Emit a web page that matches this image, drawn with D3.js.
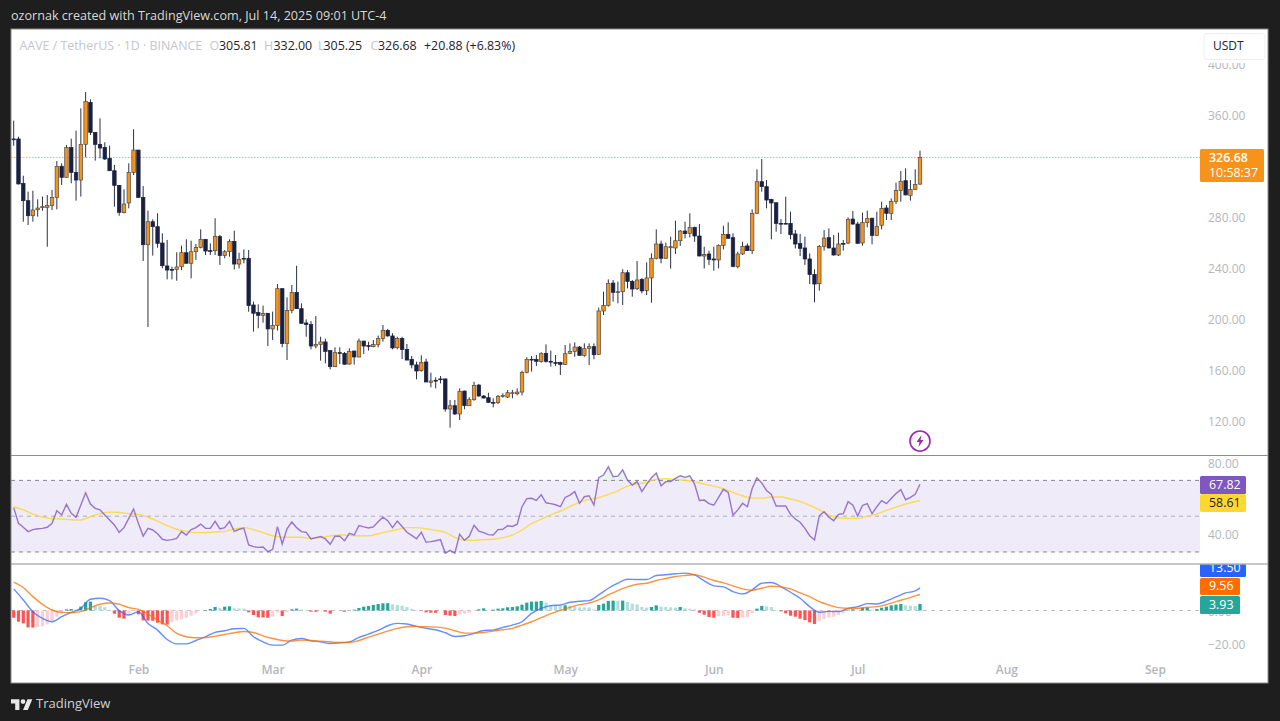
<!DOCTYPE html>
<html><head><meta charset="utf-8">
<script src="https://cdnjs.cloudflare.com/ajax/libs/d3/7.8.5/d3.min.js"></script>
<style>html,body{margin:0;padding:0;background:#1e1e1e;overflow:hidden}svg{display:block}text{font-family:"Open Sans",sans-serif}</style>
</head><body><svg id="c" width="1280" height="721"></svg>
<script>
const opens=[341.2,341.2,306.4,292.8,281.0,285.7,287.3,287.6,289.1,295.2,
319.8,311.1,334.4,315.0,309.0,337.0,369.9,346.4,337.0,334.6,
326.0,316.3,304.8,283.4,291.0,315.0,332.5,295.4,258.3,276.3,
272.4,259.6,241.6,238.9,238.9,241.0,252.0,243.7,252.8,256.2,
262.5,253.6,253.6,264.6,249.7,252.8,260.9,243.1,247.6,247.6,
211.0,205.0,202.9,204.5,192.2,194.8,223.8,180.7,206.8,220.9,
208.1,196.9,195.6,178.8,180.1,182.0,175.2,162.6,173.6,173.1,
164.7,174.9,170.2,182.7,179.1,178.3,180.1,184.8,191.1,186.7,
177.5,184.8,176.2,168.4,164.0,159.5,166.3,150.1,151.9,153.0,
153.0,129.4,132.0,125.5,143.5,132.0,136.7,148.2,139.6,138.3,
134.6,134.4,139.6,138.8,141.7,141.4,142.7,158.2,168.4,168.4,
166.6,173.1,166.8,165.8,165.8,164.4,173.1,174.6,178.0,171.5,
177.0,178.3,172.3,206.3,210.7,228.2,220.9,221.4,236.3,229.5,
223.8,231.1,222.2,232.2,247.6,258.8,247.6,255.9,255.7,261.4,
269.0,267.2,271.9,265.1,249.4,251.0,247.1,246.3,257.8,266.4,
263.8,241.0,251.0,257.3,253.6,282.9,307.7,303.8,293.9,291.2,
275.0,275.0,275.0,266.7,259.3,255.7,247.1,235.0,227.7,257.0,
263.8,255.7,250.2,259.3,259.6,278.4,274.5,259.6,275.6,279.0,
265.6,273.5,287.1,282.9,292.3,300.9,308.5,297.0,301.7,305.81];
const closes=[340.8,305.9,292.8,281.0,285.5,287.0,288.1,289.1,295.2,319.5,
311.1,334.4,315.0,309.0,337.0,370.5,346.4,337.0,334.1,325.5,
316.3,304.8,283.7,290.2,315.0,332.5,295.4,258.3,276.3,272.4,
259.3,241.8,238.4,238.4,240.8,252.0,243.7,252.8,256.2,262.5,
253.3,253.3,264.6,249.7,252.8,260.9,243.1,246.8,247.3,210.5,
204.5,202.9,204.2,192.2,194.8,223.8,180.7,206.8,220.9,208.1,
196.6,195.6,178.8,180.1,182.0,174.6,162.6,173.6,173.3,164.5,
174.6,170.2,182.7,178.8,178.6,180.1,184.8,190.9,186.7,177.3,
184.8,176.0,167.8,164.0,159.2,166.0,150.6,151.4,151.6,152.7,
129.4,132.0,125.5,143.3,132.0,136.7,148.0,139.6,138.0,134.6,
134.4,139.4,139.9,142.2,142.2,142.7,158.2,168.4,168.1,166.8,
172.8,166.8,166.5,165.2,164.4,172.8,174.6,178.0,171.5,176.7,
178.3,172.0,206.3,210.7,227.9,220.9,221.4,236.3,229.5,223.5,
230.6,222.0,232.2,247.6,258.8,247.6,256.7,256.7,261.4,269.0,
266.9,271.9,265.1,249.4,250.7,246.8,246.3,257.8,266.4,263.3,
241.3,251.0,257.0,253.6,282.9,307.7,303.8,293.3,291.0,275.0,
274.8,274.8,266.1,258.8,255.4,247.1,234.8,227.4,257.0,263.5,
255.7,250.2,258.8,259.1,278.2,274.5,259.3,275.6,278.7,265.6,
272.7,286.8,282.9,292.3,300.9,308.0,297.3,301.7,305.6,326.68];
const highs=[355.6,343.0,312.4,299.9,300.6,293.9,296.0,297.2,301.2,323.9,
322.1,336.5,341.4,347.7,365.2,378.0,372.3,346.6,357.4,338.6,
335.9,320.8,304.9,301.7,322.1,348.8,332.7,304.3,285.0,278.2,
282.9,267.2,262.0,241.0,252.3,257.5,262.5,261.4,258.8,270.3,
262.7,259.3,279.0,265.9,254.1,262.5,269.3,252.0,254.6,254.1,
213.6,211.5,210.5,204.7,205.8,227.5,224.0,217.0,226.7,241.8,
212.3,199.7,198.4,202.3,186.1,184.6,175.4,177.8,177.8,174.1,
177.0,175.0,184.6,182.9,182.2,183.5,187.0,195.3,192.2,188.8,
186.1,186.1,180.4,171.0,166.5,171.5,168.9,157.9,154.2,155.3,
153.2,136.5,136.5,145.6,143.8,138.6,150.8,149.0,140.4,142.2,
137.8,140.4,141.7,144.3,144.3,145.6,159.5,170.0,171.0,171.8,
173.9,180.1,175.2,171.8,166.5,179.6,180.9,181.7,178.8,180.9,
180.9,180.9,208.9,221.4,231.1,230.6,229.3,239.0,238.4,230.6,
245.5,232.2,244.4,251.5,270.3,261.4,259.9,264.6,277.1,269.8,
276.3,282.9,272.4,274.5,256.7,253.6,256.7,258.5,273.2,275.8,
267.2,252.8,260.6,259.3,286.0,317.4,325.5,309.0,294.1,291.4,
278.4,295.9,284.2,269.8,266.7,264.6,251.5,238.9,258.0,269.8,
271.1,265.9,267.7,262.0,279.7,284.7,276.3,283.4,285.0,279.5,
284.2,292.0,289.4,294.6,306.9,316.1,318.2,309.0,317.4,332.00];
const lows=[335.9,305.5,276.3,273.7,276.3,280.3,285.0,256.7,285.5,286.0,
305.1,310.8,306.4,292.8,296.0,326.8,344.3,324.2,326.0,324.7,
316.1,288.1,281.0,282.9,286.8,312.9,295.2,245.5,193.7,249.7,
255.9,239.7,231.1,231.1,230.0,238.4,243.5,231.9,246.3,255.4,
250.2,250.2,250.2,242.4,247.6,248.9,238.9,239.7,243.7,205.7,
190.1,192.7,197.1,178.8,183.5,190.9,177.8,167.8,204.5,207.9,
196.4,186.1,176.2,177.0,167.3,165.2,160.5,162.4,164.7,164.3,
164.2,164.2,170.0,172.6,175.2,177.8,177.8,182.2,186.1,176.2,
176.2,168.6,167.6,161.3,152.7,158.7,150.4,146.4,145.6,149.5,
127.3,114.8,124.7,120.8,129.2,131.8,135.9,139.1,137.8,134.4,
130.7,133.3,138.3,138.0,137.8,140.1,140.1,157.4,158.7,163.1,
165.8,165.8,162.6,163.1,156.1,163.9,172.5,170.4,171.3,170.4,
163.9,168.4,172.0,203.1,209.7,213.6,212.3,211.0,224.0,217.5,
222.7,220.1,218.8,212.8,246.8,243.7,247.1,239.5,251.0,257.3,
263.3,264.0,260.6,249.2,239.7,242.4,237.9,239.7,254.6,263.1,
240.5,239.7,250.2,253.4,251.0,282.7,299.9,286.8,262.5,268.5,
266.7,274.6,262.5,255.4,249.4,242.4,227.4,213.1,222.2,253.6,
255.4,249.7,249.4,253.6,258.8,273.7,259.1,257.5,271.9,258.6,
265.1,270.3,277.6,277.6,290.2,292.0,297.1,292.8,301.2,305.25];
const rsi=[54.8,46.0,43.8,41.4,42.5,43.0,43.2,43.8,46.0,53.1,
50.7,56.6,51.6,49.4,56.2,63.1,56.8,54.4,53.6,50.7,
47.9,45.1,41.0,43.6,48.8,54.0,46.0,38.9,43.2,42.3,
40.2,37.1,36.5,36.9,37.6,41.4,39.5,42.5,43.6,45.6,
43.2,43.2,47.1,42.9,43.6,47.1,41.5,42.7,43.4,33.9,
33.0,32.6,32.8,30.2,31.5,44.2,34.5,42.9,46.8,43.6,
41.4,41.0,37.3,38.0,38.6,37.3,34.3,38.8,38.8,36.3,
40.4,39.5,44.7,44.0,43.4,44.0,46.9,49.4,47.5,43.6,
47.3,44.2,41.0,39.3,37.4,41.0,35.4,35.8,36.3,36.9,
29.3,30.9,29.3,39.9,36.5,38.8,44.9,41.7,40.8,39.7,
39.5,42.5,42.7,44.7,44.3,45.5,55.3,59.8,60.0,58.8,
62.0,57.5,57.0,56.4,55.3,60.5,61.8,63.7,57.2,60.9,
61.4,56.2,71.5,73.0,77.6,72.1,72.4,75.9,70.2,67.4,
69.3,63.7,67.8,71.5,74.1,67.0,69.3,69.3,71.1,72.6,
71.7,72.6,67.8,58.8,59.0,57.0,56.1,60.5,65.0,63.3,
50.5,53.5,57.2,55.3,65.5,71.5,68.5,64.4,62.2,55.7,
55.7,55.7,51.0,48.4,46.6,43.2,39.1,36.7,50.3,52.5,
49.4,47.5,51.0,51.4,58.1,56.2,50.1,56.0,57.0,51.4,
55.3,58.7,57.0,59.9,62.7,64.8,59.2,60.5,62.2,67.82];
const sampledAt=d3.range(0,189,2).concat([189]);
const rsiMa=[55.3,53.5,51.2,49.5,48.6,48.4,48.0,47.9,49.7,51.4,
52.3,52.1,51.4,51.0,49.4,47.3,44.7,42.7,41.5,40.8,
40.8,41.2,41.5,42.9,43.6,42.5,40.8,39.1,38.2,38.2,
38.2,37.6,38.2,38.9,39.5,39.3,39.1,39.1,40.2,41.4,
42.5,43.6,43.6,43.0,42.1,41.0,38.2,36.7,36.5,36.9,
37.1,38.0,39.5,42.3,45.8,48.4,50.7,52.9,55.3,57.7,
59.4,60.3,62.2,64.2,66.8,68.1,68.9,70.6,70.9,70.6,
70.0,69.3,67.9,66.8,65.3,63.3,61.4,60.1,60.1,60.7,
60.7,59.6,58.3,56.0,53.5,50.7,49.0,48.8,48.8,49.9,
51.2,53.3,55.1,56.8,58.1,58.61];
const macd=[12.9,6.3,-0.7,-4.7,-6.7,-3.7,-1.1,1.3,6.7,7.3,
5.9,-0.1,-2.7,-0.7,-7.7,-11.7,-17.3,-19.9,-19.9,-17.9,
-15.7,-13.1,-12.1,-10.9,-10.7,-15.7,-18.7,-20.7,-20.7,-17.7,
-16.7,-18.1,-18.7,-19.7,-19.3,-18.7,-16.1,-14.1,-11.9,-9.1,
-7.7,-8.1,-9.5,-10.7,-11.5,-13.3,-15.5,-15.1,-13.7,-11.9,
-11.7,-10.1,-8.7,-6.7,-1.7,1.3,2.9,3.3,4.9,5.5,
5.9,9.3,13.3,16.3,18.7,18.5,18.5,20.9,21.3,21.9,
22.3,21.3,17.7,14.7,14.1,11.3,9.9,12.3,16.3,16.7,
14.3,10.9,7.3,2.3,-1.1,-0.5,-0.7,1.3,2.3,4.1,
3.9,5.7,8.1,10.5,11.7,13.50];
const signal=[16.9,13.7,8.3,3.7,0.3,-1.1,-1.3,-0.7,1.7,3.7,
4.5,3.7,1.7,0.7,-2.1,-5.7,-9.1,-13.7,-15.7,-16.3,
-16.1,-15.3,-14.3,-13.3,-12.5,-13.1,-15.1,-16.7,-17.9,-18.3,
-17.7,-17.9,-18.3,-18.7,-19.1,-19.1,-17.9,-15.9,-14.1,-12.3,
-10.7,-9.7,-9.5,-9.7,-9.9,-10.5,-12.1,-13.5,-13.5,-13.1,
-12.3,-11.5,-10.7,-8.7,-6.7,-4.3,-1.9,0.1,1.9,3.5,
4.5,6.3,9.3,11.9,14.1,15.7,16.3,17.9,19.1,20.3,
20.9,21.3,19.9,17.9,16.5,14.7,12.9,12.1,13.3,14.5,
14.1,12.9,10.5,8.3,5.3,3.3,1.7,1.3,1.3,1.9,
2.3,3.5,5.3,6.9,8.7,9.56];
const hist=[-4.3,-6.7,-7.7,-10.1,-10.2,-9.9,-9.3,-8.3,-6.3,-3.7,
-1.7,0.7,0.9,0.3,2.3,4.9,5.3,2.9,2.85,1.9,
0.3,-1.9,-4.3,-4.9,-2.7,-0.3,-2.3,-5.9,-6.0,-6.1,
-7.3,-8.3,-8.4,-6.7,-5.9,-5.3,-4.3,-3.1,-1.7,-0.1,
0.3,0.9,2.1,1.5,2.3,2.5,1.3,1.2,1.1,-1.1,
-2.7,-4.1,-4.15,-4.3,-3.7,-1.1,-3.3,-1.1,0.7,1.1,
0.5,0.4,-0.7,-0.75,-0.2,-0.7,-1.9,-0.3,-0.1,-0.7,
-0.1,0.5,1.5,2.3,2.7,3.3,3.9,4.3,4.35,3.7,
3.3,2.9,2.1,0.9,0.3,-0.1,-1.1,-1.3,-1.35,-0.1,
-2.7,-3.1,-3.3,-2.3,-1.9,-1.3,-0.3,0.7,1.3,0.1,
0.5,1.1,1.3,1.9,2.1,2.5,3.5,4.7,5.3,5.35,
5.7,4.7,3.3,2.9,2.85,3.1,2.9,2.3,1.9,1.85,
1.8,0.7,3.3,4.1,5.7,5.9,5.85,5.9,5.1,4.1,
3.7,2.1,1.7,2.1,3.1,2.3,2.1,1.9,1.7,2.1,
1.3,1.1,0.7,-1.3,-2.5,-3.9,-4.3,-3.4,-3.2,-3.0,
-4.3,-4.4,-4.1,-3.9,-1.7,1.1,2.7,2.5,2.1,0.3,
-0.5,-1.7,-3.1,-3.7,-4.9,-5.7,-7.1,-8.1,-6.3,-5.1,
-4.3,-3.7,-2.7,-1.7,0.5,0.7,0.1,1.7,1.75,0.5,
0.9,1.7,2.3,3.1,3.5,3.9,3.1,2.9,2.7,3.93];
const priceTicks=[400,360,280,240,200,160,120];
const rsiTicks=[80,40];
const macdTicks=[0,-20];
const rsiBands=[70,50,30];
const monthTicks=["2025-02-01","2025-03-01","2025-04-01","2025-05-01","2025-06-01","2025-07-01","2025-08-01","2025-09-01"].map(d=>new Date(d+"T00:00:00Z"));
const firstDay=new Date("2025-01-06T00:00:00Z"), lastDay=new Date("2025-07-14T00:00:00Z");
const day=i=>d3.utcDay.offset(firstDay,i);
const GREY="#b4b6bc";

const svg=d3.select("#c");
const L=11,R=1268,T=29,B=683,PR=1200;
svg.append("rect").attr("x",L).attr("y",T).attr("width",R-L).attr("height",B-T).attr("fill","#fff");
const defs=svg.append("defs");
const clip=(id,y,h,w=1400)=>defs.append("clipPath").attr("id",id).append("rect").attr("x",L).attr("y",y).attr("width",w).attr("height",h);
clip("cp",T,426,PR-L);clip("cr",456,108,PR-L);clip("cm",564.5,119,PR-L);clip("ctag",564.5,119);

const x=d3.scaleUtc().domain([firstDay,lastDay]).range([13.7,920]);
const yP=d3.scaleLinear().domain([120,400]).range([421,64]);
const yR=d3.scaleLinear().domain([30,70]).range([552,480.4]);
const yM=d3.scaleLinear().domain([-20,0]).range([644,610.5]);

function axisStyle(g){g.select(".domain").remove();g.selectAll(".tick line").remove();
 g.selectAll("text").attr("fill",GREY).style("font-size","12px").style("font-family",'"Open Sans",sans-serif');}
svg.append("g").attr("transform",`translate(${PR},1)`).call(d3.axisRight(yP).tickValues(priceTicks).tickSize(0).tickPadding(8).tickFormat(d3.format(".2f"))).call(axisStyle);
svg.append("g").attr("transform",`translate(${PR},1)`).call(d3.axisRight(yR).tickValues(rsiTicks).tickSize(0).tickPadding(8).tickFormat(d3.format(".2f"))).call(axisStyle);
svg.append("g").attr("transform",`translate(${PR},1)`).call(d3.axisRight(yM).tickValues(macdTicks).tickSize(0).tickPadding(8).tickFormat(d=>d3.format(".2f")(d).replace("-","\u2212"))).call(axisStyle);
svg.append("g").attr("transform",`translate(0,661)`).call(d3.axisBottom(x).tickValues(monthTicks).tickSize(0).tickPadding(4).tickFormat(d3.utcFormat("%b"))).call(axisStyle).selectAll("text").style("font-weight","600");

// price pane
const gp=svg.append("g").attr("clip-path","url(#cp)");
gp.append("line").attr("x1",L).attr("x2",PR).attr("y1",yP(closes[189])).attr("y2",yP(closes[189])).attr("stroke","#f9a84a").attr("stroke-opacity",.9).attr("stroke-width",1).attr("stroke-dasharray","1.5 1.5");
const candles=gp.selectAll("g.c").data(d3.range(opens.length)).join("g").attr("class","c");
candles.append("line").attr("x1",i=>x(day(i))).attr("x2",i=>x(day(i))).attr("y1",i=>yP(highs[i])).attr("y2",i=>yP(lows[i])).attr("stroke","#2b3047").attr("stroke-width",1);
candles.append("rect").attr("x",i=>x(day(i))-1.75).attr("width",3.5)
 .attr("y",i=>yP(Math.max(opens[i],closes[i])))
 .attr("height",i=>Math.max(0.8,Math.abs(yP(opens[i])-yP(closes[i]))))
 .attr("fill",i=>closes[i]>=opens[i]?"#f7931a":"#1a2140")
 .attr("stroke",i=>closes[i]>=opens[i]?"#4a4a4a":"#1a2140").attr("stroke-width",.7);
// lightning mark
const bolt=svg.append("g").attr("transform",`translate(${x(lastDay)},441)`);
bolt.append("circle").attr("r",10).attr("fill","#fff").attr("stroke","#9c27b0").attr("stroke-width",1.6);
bolt.append("path").attr("d","M1.5,-6 L-3.5,1 L-0.5,1 L-1.5,6 L3.5,-1 L0.5,-1 Z").attr("fill","#9c27b0");

// RSI pane
const gr=svg.append("g").attr("clip-path","url(#cr)");
gr.append("rect").attr("x",L).attr("width",PR-L).attr("y",yR(70)).attr("height",yR(30)-yR(70)).attr("fill","#7e57c2").attr("fill-opacity",.12);
gr.selectAll("line.b").data(rsiBands).join("line").attr("class","b").attr("x1",L).attr("x2",PR).attr("y1",d=>yR(d)).attr("y2",d=>yR(d))
 .attr("stroke","#787b86").attr("stroke-width",1).attr("stroke-opacity",d=>d===50?.55:.9).attr("stroke-dasharray","4 4");
const idx=d3.range(rsi.length);
gr.append("path").attr("d",d3.area().x(i=>x(day(i))).y0(yR(70)).y1(i=>yR(Math.max(rsi[i],70)))(idx)).attr("fill","#4caf50").attr("fill-opacity",.12);
gr.append("path").attr("d",d3.line().x(i=>x(day(sampledAt[i]))).y(i=>yR(rsiMa[i])).curve(d3.curveMonotoneX)(d3.range(rsiMa.length))).attr("fill","none").attr("stroke","#fdd835").attr("stroke-width",1.4).attr("stroke-opacity",.85);
gr.append("path").attr("d",d3.line().x(i=>x(day(i))).y(i=>yR(rsi[i]))(idx)).attr("fill","none").attr("stroke","#7e57c2").attr("stroke-width",1.4).attr("stroke-opacity",.8);

// MACD pane
const gm=svg.append("g").attr("clip-path","url(#cm)");
gm.append("line").attr("x1",L).attr("x2",PR).attr("y1",yM(0)).attr("y2",yM(0)).attr("stroke","#787b86").attr("stroke-opacity",.5).attr("stroke-dasharray","4 4");
const hc=i=>{const v=hist[i],p=i?hist[i-1]:v,up=v>p;return v>=0?(up?"#26a69a":"#b2dfdb"):(up?"#ffcdd2":"#ff5252");};
gm.selectAll("rect.h").data(idx).join("rect").attr("class","h").attr("x",i=>x(day(i))-1.6).attr("width",3.2)
 .attr("y",i=>Math.min(yM(0),yM(hist[i]))).attr("height",i=>Math.abs(yM(hist[i])-yM(0))).attr("fill",hc);
const lineM=a=>d3.line().x(i=>x(day(sampledAt[i]))).y(i=>yM(a[i])).curve(d3.curveMonotoneX)(d3.range(a.length));
gm.append("path").attr("d",lineM(macd)).attr("fill","none").attr("stroke","#2962ff").attr("stroke-width",1.4).attr("stroke-opacity",.72);
gm.append("path").attr("d",lineM(signal)).attr("fill","none").attr("stroke","#ff6d00").attr("stroke-width",1.4).attr("stroke-opacity",.75);

// value tags
function tag(par,xx,y,w,h,fill,txt,tc,ty){par.append("rect").attr("x",xx).attr("y",y).attr("width",w).attr("height",h).attr("rx",1.5).attr("fill",fill);
 par.append("text").attr("x",xx+9).attr("y",ty).attr("fill",tc).style("font-size","12.4px").attr("dominant-baseline","middle").text(txt);}
const tagsTop=svg.append("g");
tagsTop.append("rect").attr("x",PR).attr("y",149).attr("width",64).attr("height",33).attr("rx",1.5).attr("fill","#f7931a");
tagsTop.append("text").attr("x",1209).attr("y",159).attr("fill","#fff").attr("font-weight",600).style("font-size","12.4px").attr("dominant-baseline","middle").text(closes[189].toFixed(2));
tagsTop.append("text").attr("x",1209).attr("y",174).attr("fill","#fff").style("font-size","12.4px").attr("dominant-baseline","middle").text("10:58:37");
tag(tagsTop,PR,476,46,18,"#7e57c2",rsi[189].toFixed(2),"#fff",485.5);
tag(tagsTop,PR,494,46,18,"#fdd835",rsiMa[rsiMa.length-1].toFixed(2),"#1e1e1e",503.5);
const tagsM=svg.append("g").attr("clip-path","url(#ctag)");
tag(tagsM,PR,560,46,17,"#2962ff",macd[macd.length-1].toFixed(2),"#fff",569);
tag(tagsM,PR,578,40,17,"#ff6d00",signal[signal.length-1].toFixed(2),"#fff",587);
tag(tagsM,PR,596,40,18,"#26a69a",hist[189].toFixed(2),"#fff",605.5);

// frame
svg.append("line").attr("x1",L).attr("x2",R).attr("y1",455.5).attr("y2",455.5).attr("stroke","#8c8c8c");
svg.append("line").attr("x1",L).attr("x2",R).attr("y1",564).attr("y2",564).attr("stroke","#8c8c8c");
svg.append("rect").attr("x",L).attr("y",T).attr("width",R-L).attr("height",B-T).attr("fill","none").attr("stroke","#8c8c8c").attr("stroke-width",1);

// USDT box
svg.append("rect").attr("x",1202).attr("y",31).attr("width",65).attr("height",32).attr("fill","#fff");
svg.append("rect").attr("x",1204).attr("y",33.5).attr("width",61).attr("height",26).attr("rx",3).attr("fill","#fff").attr("stroke","#eeeeee");
svg.append("text").attr("x",1213).attr("y",47).attr("fill","#1e222d").attr("dominant-baseline","middle").style("font-size","12px").text("USDT");

// titles
svg.append("text").attr("x",11).attr("y",19.5).attr("fill","#d8d8d8").style("font-size","12.6px").text("ozornak created with TradingView.com, Jul 14, 2025 09:01 UTC-4");
const leg=(xx,t,c)=>svg.append("text").attr("x",xx).attr("y",50).attr("fill",c).style("font-size","12.4px").text(t);
leg(19.5,"AAVE / TetherUS · 1D · BINANCE","#c4c6cc");
leg(209.5,"O","#c4c6cc");leg(219,"305.81","#1e222d");
leg(264,"H","#c4c6cc");leg(273.5,"332.00","#1e222d");
leg(318,"L","#c4c6cc");leg(323.5,"305.25","#1e222d");
leg(370.5,"C","#c4c6cc");leg(378,"326.68","#1e222d");
leg(424,"+20.88 (+6.83%)","#1e222d");

// footer
svg.append("g").attr("transform","translate(11,695) scale(0.6)").append("path").attr("fill","#e8e8e8").attr("d","M14 25H7V14H0V7h14v18zM28 25h-8l7.5-18h8L28 25zM20 7a4 4 0 1 1 0 8 4 4 0 0 1 0-8z");
svg.append("text").attr("x",36).attr("y",708).attr("fill","#d0d0d0").style("font-size","13px").text("TradingView");
</script></body></html>
